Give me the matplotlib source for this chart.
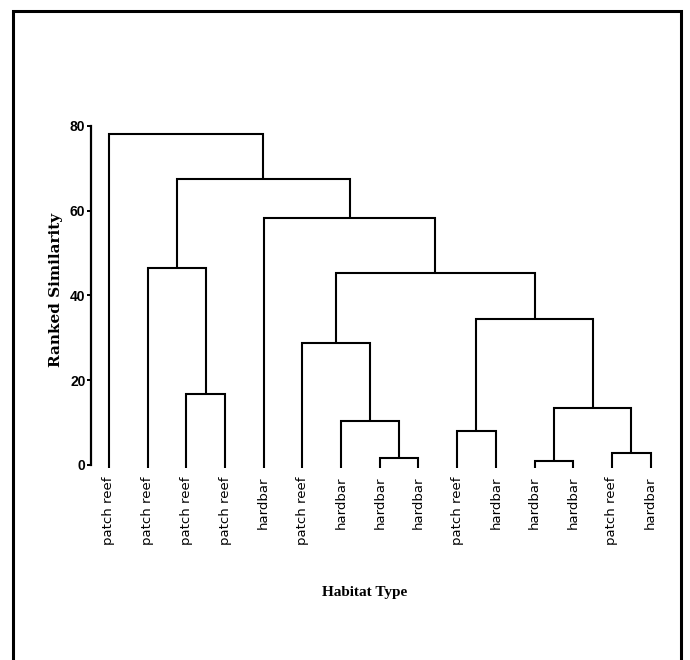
import matplotlib
matplotlib.use("Agg")
import matplotlib.pyplot as plt
from matplotlib.patches import Rectangle

# leaf labels, left to right
leaf_labels = ["patch reef", "patch reef", "patch reef", "patch reef", "hardbar",
               "patch reef", "hardbar", "hardbar", "hardbar", "patch reef",
               "hardbar", "hardbar", "hardbar", "patch reef", "hardbar"]

# merges: (left node, right node, ranked similarity); new node ids start at 15
merge_left = [2, 1, 7, 6, 5, 11, 13, 20, 9, 23, 19, 4, 16, 0]
merge_right = [3, 15, 8, 17, 18, 12, 14, 21, 10, 22, 24, 25, 26, 27]
merge_height = [16.7, 46.6, 1.6, 10.4, 28.7, 0.9, 2.9, 13.5, 7.9, 34.5, 45.2, 58.2, 67.4, 78.0]

yticks = [0, 20, 40, 60, 80]

fig = plt.figure(figsize=(6.9, 6.6), dpi=100)
ax = fig.add_axes([0.1319, 0.2955, 0.839, 0.5136])

n = len(leaf_labels)
xpos = {i: float(i) for i in range(n)}
ypos = {i: -0.6 for i in range(n)}
lw = 1.5
for k, (a, b, h) in enumerate(zip(merge_left, merge_right, merge_height)):
    node = n + k
    ax.plot([xpos[a], xpos[a], xpos[b], xpos[b]], [ypos[a], h, h, ypos[b]],
            color="black", lw=lw, solid_joinstyle="miter", solid_capstyle="butt",
            clip_on=False)
    xpos[node] = (xpos[a] + xpos[b]) / 2
    ypos[node] = h

ax.set_xlim(-0.465, 14.5)
ax.set_ylim(0, 80)
for s in ["top", "right", "bottom"]:
    ax.spines[s].set_visible(False)
ax.spines["left"].set_linewidth(1.6)

ax.set_yticks(yticks)
ax.set_yticklabels([str(t) for t in yticks], fontsize=10, fontweight="bold",
                   family="Liberation Sans")
ax.tick_params(axis="y", direction="out", length=3, width=1.4, pad=1)

ax.set_xticks(range(n))
ax.set_xticklabels(leaf_labels, rotation=90, fontsize=9.5, family="DejaVu Sans")
ax.tick_params(axis="x", length=0, pad=8)

fig.text(0.081, 0.561, "Ranked Similarity", rotation=90, ha="center", va="center",
         fontsize=11, fontweight="bold", family="DejaVu Serif")
fig.text(0.529, 0.103, "Habitat Type", ha="center", va="center",
         fontsize=11, fontweight="bold", family="Liberation Serif")

# outer frame
W, H = 690, 660
fig.patches.append(Rectangle((13 / W, -0.05), (681 - 13) / W, (H - 11) / H + 0.05,
                             transform=fig.transFigure, fill=False,
                             edgecolor="black", lw=2.2))

plt.savefig("out.png", dpi=100)
